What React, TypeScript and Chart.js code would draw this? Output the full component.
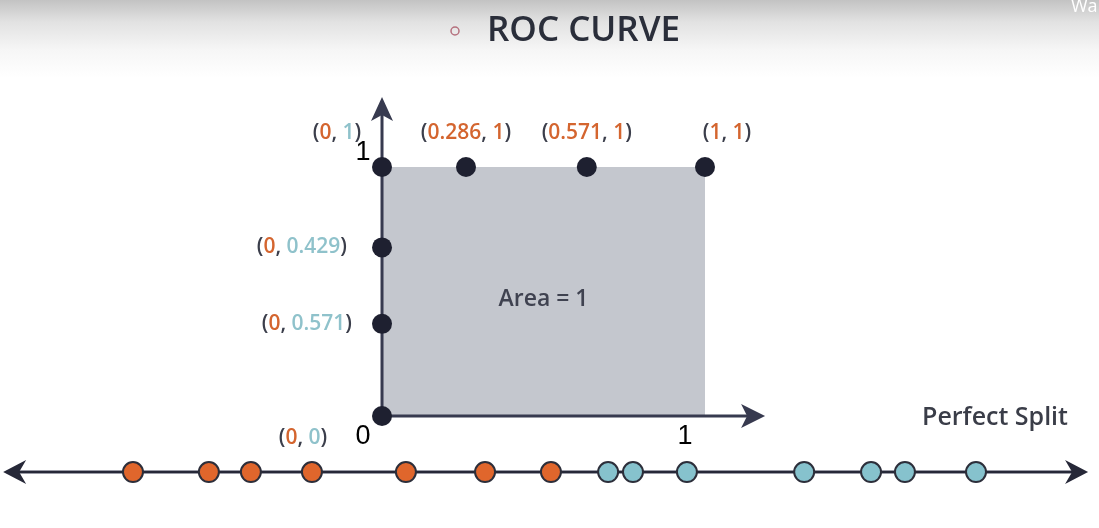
import React, { useEffect, useRef } from "react";
import { Chart, registerables } from "chart.js";

Chart.register(...registerables);

// ROC points (positions as drawn in the picture) and their printed labels
const ROC_FPR = [0, 0.26, 0.634, 1, 0, 0, 0];
const ROC_TPR = [1, 1, 1, 1, 0.677, 0.37, 0];
const LABEL_FPR = ["0", "0.286", "0.571", "1", "0", "0", "0"];
const LABEL_TPR = ["1", "1", "1", "1", "0.429", "0.571", "0"];
const LABEL_TPR_IS_POSITIVE = [true, false, false, false, true, true, true];

// Score number line ("Perfect Split")
const NEGATIVE_SCORES = [-0.771, -0.536, -0.406, -0.217, 0.074, 0.319, 0.523];
const POSITIVE_SCORES = [0.7, 0.777, 0.944, 1.307, 1.514, 1.619, 1.839];
const NUMBER_LINE_LEVEL = -0.225;
const NUMBER_LINE_ENDS = [-1.173, 2.186];

// Axis ranges / extents and tick labels
const X_RANGE = [-1.1827, 2.2198];
const Y_RANGE = [-0.4498, 1.6707];
const Y_AXIS_END = 1.281;
const X_AXIS_END = 1.186;
const TICK_TEXT = ["1", "0", "1"];

const TITLE = "ROC CURVE";
const AREA_TEXT = "Area = 1";
const SPLIT_TEXT = "Perfect Split";

const DARK = "#3b3e4b";
const ORANGE_TXT = "#d4652f";
const TEAL_TXT = "#8fc2cb";
const AXIS = "#373a4f";

// label layout: [dx, dy, align]
const LABEL_LAYOUT: [number, number, string][] = [
  [-45, -34, "center"],
  [0, -34, "center"],
  [0, -34, "center"],
  [22, -34, "center"],
  [-35, 0, "right"],
  [-30, 0, "right"],
  [-79, 22, "center"],
];

function arrow(ctx: CanvasRenderingContext2D, tx: number, ty: number, dx: number, dy: number, len: number, half: number, notch: number) {
  const nx = -dy, ny = dx;
  ctx.beginPath();
  ctx.moveTo(tx, ty);
  ctx.lineTo(tx - len * dx + half * nx, ty - len * dy + half * ny);
  ctx.lineTo(tx - (len - notch) * dx, ty - (len - notch) * dy);
  ctx.lineTo(tx - len * dx - half * nx, ty - len * dy - half * ny);
  ctx.closePath();
  ctx.fill();
}

function segText(ctx: CanvasRenderingContext2D, segs: [string, string][], x: number, y: number, align: string) {
  const total = segs.reduce((s, [t]) => s + ctx.measureText(t).width, 0);
  let cx = align === "center" ? x - total / 2 : align === "right" ? x - total : x;
  ctx.textAlign = "left";
  for (const [t, c] of segs) {
    ctx.fillStyle = c;
    ctx.fillText(t, cx, y);
    cx += ctx.measureText(t).width;
  }
}

const decorPlugin = {
  id: "decor",
  afterDatasetDraw(chart: any, args: any) {
    if (args.index !== 0) return;
    const ctx = chart.ctx as CanvasRenderingContext2D;
    const xs = chart.scales.x, ys = chart.scales.y;
    const ox = xs.getPixelForValue(0), oy = ys.getPixelForValue(0);
    ctx.save();
    // ROC axes
    ctx.strokeStyle = AXIS;
    ctx.fillStyle = AXIS;
    ctx.lineWidth = 3;
    const yTop = ys.getPixelForValue(Y_AXIS_END);
    const xEnd = xs.getPixelForValue(X_AXIS_END);
    ctx.beginPath();
    ctx.moveTo(ox, oy);
    ctx.lineTo(ox, yTop + 12);
    ctx.moveTo(ox, oy);
    ctx.lineTo(xEnd - 12, oy);
    ctx.stroke();
    arrow(ctx, ox, yTop, 0, -1, 24, 11, 6);
    arrow(ctx, xEnd, oy, 1, 0, 24, 12, 6);
    // number line
    const ly = ys.getPixelForValue(NUMBER_LINE_LEVEL);
    const l0 = xs.getPixelForValue(NUMBER_LINE_ENDS[0]);
    const l1 = xs.getPixelForValue(NUMBER_LINE_ENDS[1]);
    ctx.strokeStyle = "#9a9ba6";
    ctx.lineWidth = 4;
    ctx.beginPath();
    ctx.moveTo(l0 + 12, ly);
    ctx.lineTo(l1 - 12, ly);
    ctx.stroke();
    ctx.strokeStyle = "#262838";
    ctx.fillStyle = "#262838";
    ctx.lineWidth = 2;
    ctx.beginPath();
    ctx.moveTo(l0 + 12, ly);
    ctx.lineTo(l1 - 12, ly);
    ctx.stroke();
    arrow(ctx, l0, ly, -1, 0, 23, 12, 7);
    arrow(ctx, l1, ly, 1, 0, 23, 12, 7);
    ctx.restore();
  },
  afterDraw(chart: any) {
    const ctx = chart.ctx as CanvasRenderingContext2D;
    const xs = chart.scales.x, ys = chart.scales.y;
    ctx.save();
    // title
    ctx.textBaseline = "middle";
    ctx.font = "600 35px 'Open Sans'";
    ctx.fillStyle = "#2a2e3a";
    ctx.textAlign = "left";
    ctx.fillText(TITLE, 487, 31);
    ctx.strokeStyle = "#b5707d";
    ctx.lineWidth = 1.5;
    ctx.beginPath();
    ctx.arc(455, 31, 4, 0, Math.PI * 2);
    ctx.stroke();
    ctx.font = "18px 'Open Sans'";
    ctx.fillStyle = "#ffffff";
    ctx.fillText("Wa", 1071, 7);

    // point labels
    ctx.font = "600 21px 'Open Sans'";
    ROC_FPR.forEach((fx, i) => {
      const px = xs.getPixelForValue(fx);
      const py = ys.getPixelForValue(ROC_TPR[i]);
      const [dx, dy, al] = LABEL_LAYOUT[i];
      segText(ctx, [
        ["(", DARK],
        [LABEL_FPR[i], ORANGE_TXT],
        [", ", DARK],
        [LABEL_TPR[i], LABEL_TPR_IS_POSITIVE[i] ? TEAL_TXT : ORANGE_TXT],
        [")", DARK],
      ], px + dx, py + dy, al);
    });

    // tick labels
    ctx.font = "27px 'Liberation Sans'";
    ctx.fillStyle = "#000";
    ctx.textAlign = "center";
    const ox = xs.getPixelForValue(0), oy = ys.getPixelForValue(0);
    ctx.fillText(TICK_TEXT[0], ox - 19, ys.getPixelForValue(1) - 14);
    ctx.fillText(TICK_TEXT[1], ox - 19, oy + 21);
    ctx.fillText(TICK_TEXT[2], xs.getPixelForValue(1) - 20, oy + 21);

    // area text
    ctx.font = "600 23px 'Open Sans'";
    ctx.fillStyle = "#3f4250";
    ctx.fillText(AREA_TEXT, xs.getPixelForValue(0.5), ys.getPixelForValue(0.47));
    // perfect split
    ctx.font = "600 25px 'Open Sans'";
    ctx.fillStyle = "#3a3d48";
    ctx.textAlign = "center";
    ctx.fillText(SPLIT_TEXT, 995, 418);
    ctx.restore();
  },
};

export default function App() {
  const ref = useRef<HTMLCanvasElement>(null);
  useEffect(() => {
    document.body.style.margin = "0";
    const chart = new Chart(ref.current!, {
      type: "scatter",
      data: {
        datasets: [
          {
            type: "line",
            data: [{ x: 0, y: 1 }, { x: 1, y: 1 }],
            fill: "origin",
            backgroundColor: "#c4c7ce",
            borderWidth: 0,
            pointRadius: 0,
            order: 10,
            clip: false,
          } as any,
          {
            data: ROC_FPR.map((x, i) => ({ x, y: ROC_TPR[i] })),
            pointRadius: 10,
            backgroundColor: "#1e2030",
            borderWidth: 0,
            order: 1,
            clip: false,
          },
          {
            data: NEGATIVE_SCORES.map((x) => ({ x, y: NUMBER_LINE_LEVEL })),
            pointRadius: 10,
            backgroundColor: "#e0662c",
            borderColor: "#2c2e3a",
            borderWidth: 2,
            order: 2,
            clip: false,
          },
          {
            data: POSITIVE_SCORES.map((x) => ({ x, y: NUMBER_LINE_LEVEL })),
            pointRadius: 10,
            backgroundColor: "#86c2cd",
            borderColor: "#2c2e3a",
            borderWidth: 2,
            order: 3,
            clip: false,
          },
        ],
      },
      options: {
        animation: false,
        responsive: true,
        maintainAspectRatio: false,
        layout: { padding: 0, autoPadding: false },
        scales: {
          x: { type: "linear", min: X_RANGE[0], max: X_RANGE[1], display: false },
          y: { type: "linear", min: Y_RANGE[0], max: Y_RANGE[1], display: false },
        },
        plugins: { legend: { display: false }, tooltip: { enabled: false } },
        events: [],
      },
      plugins: [decorPlugin],
    });
    return () => chart.destroy();
  }, []);
  return (
    <div
      style={{
        position: "absolute",
        left: 0,
        top: 0,
        width: 1099,
        height: 528,
        background: "linear-gradient(to bottom, #c3c3c3 0px, #e2e2e2 22px, #f6f6f6 50px, #ffffff 78px)",
      }}
    >
      <canvas ref={ref} />
    </div>
  );
}
